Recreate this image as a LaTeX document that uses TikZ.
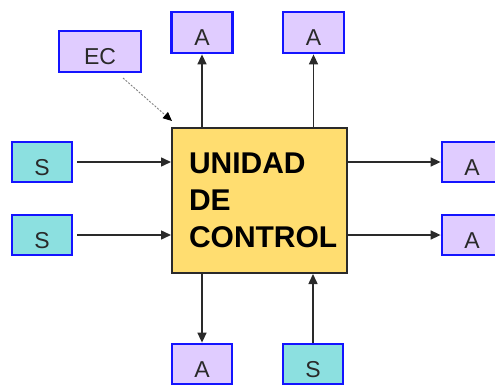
\documentclass[tikz,border=0pt]{standalone}
\usepackage{fontspec}
\setmainfont{Liberation Sans}
\usetikzlibrary{arrows.meta}
\definecolor{lav}{HTML}{E0CCFF}
\definecolor{cyanfill}{HTML}{8CE0E0}
\definecolor{yel}{HTML}{FFDD70}
\definecolor{bord}{HTML}{1414FF}
\definecolor{dark}{HTML}{2A2A2A}
\tikzset{
  smallbox/.style={draw=bord, line width=2.8pt, minimum width=60pt, minimum height=40pt,
    inner sep=0pt, text height=26pt, text depth=0pt, font=\fontsize{23}{23}\selectfont, text=dark},
  abox/.style={smallbox, fill=lav},
  sbox/.style={smallbox, fill=cyanfill},
  ctrl/.style={draw=dark, line width=2pt, fill=yel, minimum width=175pt, minimum height=145pt,
    inner xsep=17pt, text width=141pt, align=left,
    font=\fontsize{30}{37}\selectfont\bfseries},
  arr/.style={draw=dark, line width=1.5pt, -{Triangle[length=10pt,width=9pt]}},
  ecarr/.style={draw=gray, line width=0.9pt, dash pattern=on 2pt off 1.5pt,
    -{Triangle[length=9pt,width=8pt,black]}}
}
\begin{document}
\begin{tikzpicture}[x=1pt,y=-1pt]
\clip (0,0) rectangle (495,385);
\fill[white] (0,0) rectangle (495,385);
\node[ctrl] (uc) at (259.5,200.5) {UNIDAD\\DE\\CONTROL};
\node[abox, minimum width=61pt, minimum height=41pt] (a1) at (202,32.5) {A};
\node[abox, minimum width=61pt, minimum height=41pt] (a2) at (313.5,32.5) {A};
\node[abox, minimum width=82pt, minimum height=41pt] (ec) at (100,51.5) {EC};
\node[sbox] (s1) at (42,162) {S};
\node[sbox] (s2) at (42,235) {S};
\node[abox] (a3) at (472,162) {A};
\node[abox] (a4) at (472,235) {A};
\node[abox] (a5) at (202,364) {A};
\node[sbox] (s3) at (313,364) {S};
\coordinate (ecstart) at (123,78);
\coordinate (ectip) at (172,121);
\draw[ecarr] (ecstart) -- (ectip);
\draw[arr] (uc.north -| a1.south) -- (a1.south);
\draw[arr] (uc.north -| a2.south) -- (a2.south);
\draw[arr, shorten <=4pt] (s1.east) -- (s1.east -| uc.west);
\draw[arr, shorten <=4pt] (s2.east) -- (s2.east -| uc.west);
\draw[arr] (a3.west -| uc.east) -- (a3.west);
\draw[arr] (a4.west -| uc.east) -- (a4.west);
\draw[arr] (uc.south -| a5.north) -- (a5.north);
\draw[arr] (s3.north) -- (s3.north |- uc.south);
\end{tikzpicture}
\end{document}
